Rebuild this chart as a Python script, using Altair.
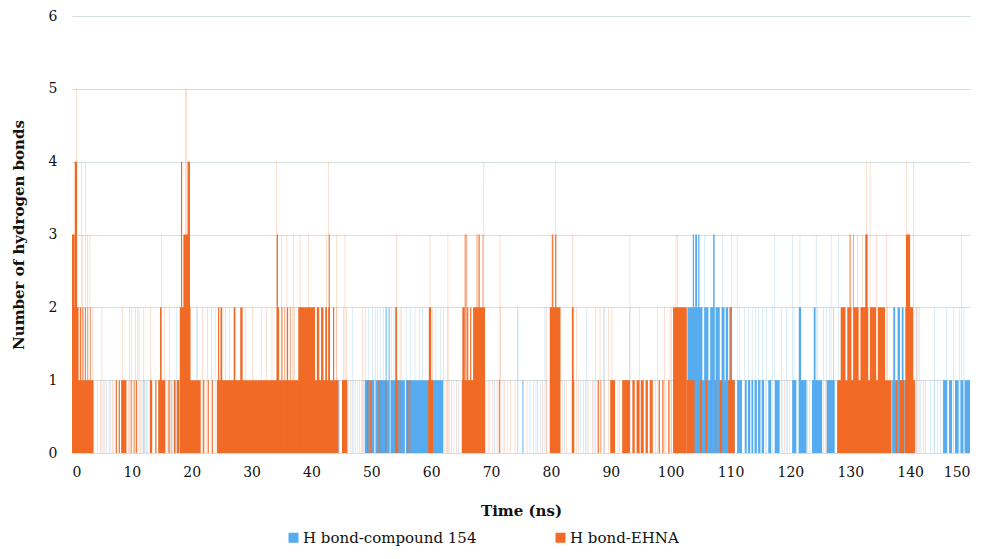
import altair as alt
import pandas as pd

series_names = ["H bond-compound 154", "H bond-EHNA"]
series_colors = ["#56ACEE", "#F26B26"]
x_ticks = list(range(0, 151, 10))
y_ticks = [0, 1, 2, 3, 4, 5, 6]

# EHNA: blocks [start ns, end ns, number of H bonds]
ehna_segments = [
    [0.0, 3.6, 1], [0.0, 1.1, 2], [0.0, 0.45, 3], [0.45, 0.85, 4],
    [1.35, 1.5, 2], [1.75, 1.9, 2], [2.15, 2.3, 2], [2.6, 2.7, 2], [3.0, 3.1, 2],
    [7.3, 7.5, 1], [7.8, 8.0, 1], [8.2, 9.1, 1], [9.8, 9.95, 1], [10.3, 10.45, 1],
    [10.7, 10.85, 1], [13.0, 13.4, 1], [13.9, 14.1, 1], [14.4, 15.6, 1], [14.7, 14.95, 2],
    [16.1, 16.3, 1], [16.5, 16.6, 1], [17.0, 17.3, 1], [17.5, 17.9, 1],
    [18.0, 21.5, 1], [18.0, 19.8, 2], [18.6, 19.7, 3], [18.2, 18.4, 4], [19.3, 19.7, 4],
    [21.9, 22.1, 1], [22.7, 22.85, 1], [23.4, 23.55, 1],
    [24.2, 44.5, 1], [24.4, 24.6, 2], [24.8, 25.1, 2], [27.0, 27.3, 2], [28.1, 28.5, 2],
    [34.2, 34.6, 2], [34.2, 34.4, 3], [35.0, 35.15, 2], [35.5, 35.6, 2], [35.9, 36.1, 2],
    [36.4, 36.5, 2], [37.8, 40.6, 2], [40.9, 41.3, 2], [41.6, 42.0, 2], [42.3, 42.6, 2],
    [42.8, 43.1, 2], [42.9, 43.05, 3], [43.6, 43.8, 2],
    [45.1, 46.0, 1],
    [49.3, 49.5, 1], [49.8, 50.0, 1], [51.2, 51.4, 1], [51.6, 51.7, 1], [52.3, 52.5, 1],
    [54.0, 54.5, 1], [54.0, 54.3, 2], [56.0, 56.2, 1], [56.4, 56.5, 1], [59.5, 60.3, 1],
    [59.6, 60.0, 2],
    [65.1, 69.0, 1], [65.2, 65.6, 2], [66.0, 66.2, 2], [66.5, 66.7, 2], [67.0, 69.0, 2],
    [65.6, 65.75, 3], [65.9, 66.0, 3], [67.6, 67.7, 3], [67.9, 68.1, 3], [68.6, 68.7, 3],
    [71.3, 71.45, 1],
    [79.8, 81.6, 2], [80.2, 80.4, 3], [80.7, 80.9, 3],
    [83.5, 83.9, 1], [83.5, 83.8, 2],
    [87.8, 88.0, 1], [88.3, 88.4, 1], [89.9, 90.7, 1], [91.9, 93.2, 1], [93.6, 94.0, 1],
    [94.3, 94.8, 1], [95.0, 95.5, 1], [95.8, 96.2, 1], [96.5, 97.0, 1], [98.0, 98.2, 1],
    [98.6, 98.8, 1], [99.6, 99.8, 1],
    [100.4, 102.7, 2], [102.7, 104.0, 1], [104.9, 105.2, 1], [105.8, 106.1, 1],
    [108.2, 108.6, 1], [109.6, 110.7, 1], [109.95, 110.2, 2],
    [127.8, 136.9, 1], [128.4, 129.2, 2], [129.5, 130.2, 2], [130.5, 131.4, 2],
    [131.7, 133.0, 2], [133.3, 134.3, 2], [134.6, 135.8, 2], [132.5, 132.9, 3],
    [129.9, 130.05, 3], [130.45, 130.55, 3],
    [137.6, 137.8, 1], [138.3, 139.0, 1], [139.1, 140.8, 1], [139.2, 140.5, 2], [139.3, 140.0, 3],
]

# EHNA: single-frame spikes [time ns, number of H bonds]
ehna_spikes = [
    [0.8, 5], [18.95, 5], [19.1, 5],
    [1.6, 4], [2.3, 4], [34.2, 4], [42.9, 4], [68.8, 4], [80.8, 4], [132.7, 4],
    [133.3, 4], [139.4, 4], [140.6, 4],
    [0.1, 3], [1.8, 3], [2.6, 3], [3.0, 3], [15.0, 3], [35.0, 3], [35.9, 3], [37.0, 3],
    [38.1, 3], [39.5, 3], [42.5, 3], [44.2, 3], [45.6, 3], [54.2, 3], [59.8, 3],
    [62.8, 3], [71.5, 3], [80.1, 3], [83.6, 3], [100.9, 3], [101.1, 3], [131.2, 3],
    [132.0, 3], [134.4, 3], [136.1, 3],
    [3.5, 2], [5.0, 2], [8.4, 2], [9.6, 2], [10.0, 2], [10.6, 2], [11.2, 2], [12.0, 2],
    [13.1, 2], [15.4, 2], [16.3, 2], [21.0, 2], [21.8, 2], [22.6, 2], [23.3, 2],
    [25.6, 2], [26.3, 2], [29.0, 2], [30.2, 2], [31.6, 2], [32.5, 2], [33.4, 2],
    [36.8, 2], [37.2, 2], [44.2, 2], [45.3, 2], [45.8, 2], [48.5, 2], [54.8, 2],
    [60.2, 2], [62.0, 2], [62.8, 2], [71.5, 2], [74.4, 2], [79.2, 2], [84.3, 2],
    [87.5, 2], [88.2, 2], [88.8, 2], [89.6, 2], [90.2, 2], [93.2, 2], [99.0, 2],
    [99.9, 2], [100.1, 2], [127.2, 2], [136.2, 2], [137.2, 2], [141.0, 2], [141.3, 2],
    [4.2, 1], [4.8, 1], [5.5, 1], [6.2, 1], [6.8, 1], [9.4, 1], [11.4, 1], [12.2, 1],
    [15.9, 1], [22.4, 1], [46.5, 1], [47.3, 1], [48.0, 1], [48.7, 1], [62.6, 1],
    [63.4, 1], [64.2, 1], [69.5, 1], [70.3, 1], [71.0, 1], [72.3, 1], [73.2, 1],
    [74.0, 1], [76.0, 1], [77.8, 1], [78.6, 1], [79.3, 1], [82.0, 1], [82.6, 1],
    [84.6, 1], [85.4, 1], [86.2, 1], [86.9, 1], [89.0, 1], [91.2, 1], [97.5, 1],
    [99.2, 1], [100.2, 1], [106.8, 1], [107.6, 1], [111.8, 1], [115.9, 1], [119.0, 1],
    [126.0, 1], [140.9, 1], [142.3, 1],
]

# Compound 154: blocks [start ns, end ns, number of H bonds]
c154_segments = [
    [44.5, 44.65, 1],
    [48.9, 50.5, 1], [50.7, 53.0, 1], [53.2, 55.6, 1], [55.8, 62.0, 1],
    [52.4, 52.55, 2], [52.9, 53.05, 2], [75.25, 75.4, 1],
    [102.7, 110.7, 1], [102.8, 105.3, 2], [105.6, 106.3, 2], [106.6, 107.3, 2],
    [107.5, 108.2, 2], [108.5, 109.0, 2], [109.2, 109.6, 2], [109.8, 110.2, 2],
    [103.7, 103.9, 3], [104.1, 104.4, 3], [104.6, 104.8, 3], [107.1, 107.35, 3],
    [111.1, 111.9, 1], [112.4, 112.7, 1], [112.9, 113.3, 1], [113.5, 113.8, 1],
    [114.0, 114.4, 1], [114.6, 115.0, 1], [115.2, 115.6, 1], [116.3, 116.8, 1],
    [117.4, 118.2, 1], [120.3, 121.0, 1], [121.4, 122.7, 1], [123.6, 125.3, 1],
    [121.4, 121.8, 2], [123.9, 124.2, 2],
    [126.1, 127.4, 1],
    [137.0, 139.1, 1], [137.2, 137.5, 2], [137.9, 138.3, 2], [138.6, 138.9, 2],
    [145.5, 146.2, 1], [146.5, 147.0, 1], [147.5, 148.1, 1], [148.4, 148.9, 1],
    [149.1, 150.0, 1],
]

# Compound 154: single-frame spikes [time ns, number of H bonds]
c154_spikes = [
    [93.2, 3], [105.7, 3], [108.7, 3], [110.2, 3], [111.1, 3], [117.4, 3], [120.3, 3],
    [121.6, 3], [124.3, 3], [126.8, 3], [128.0, 3], [148.6, 3],
    [1.3, 2], [2.0, 2], [11.0, 2], [17.5, 2], [20.8, 2], [23.9, 2], [46.8, 2],
    [49.0, 2], [49.5, 2], [50.2, 2], [50.7, 2], [51.0, 2], [51.5, 2], [52.0, 2],
    [53.4, 2], [53.8, 2], [55.0, 2], [55.8, 2], [56.6, 2], [57.3, 2], [58.0, 2],
    [58.6, 2], [60.8, 2], [61.5, 2], [74.5, 2], [79.0, 2], [86.0, 2], [89.0, 2],
    [94.8, 2], [97.8, 2], [102.3, 2], [111.5, 2], [112.3, 2], [113.0, 2], [113.6, 2],
    [114.2, 2], [114.7, 2], [115.3, 2], [116.0, 2], [117.0, 2], [118.5, 2], [119.3, 2],
    [120.6, 2], [124.5, 2], [125.5, 2], [126.0, 2], [126.5, 2], [127.2, 2], [141.0, 2],
    [141.5, 2], [144.1, 2], [146.1, 2], [147.2, 2], [148.3, 2], [149.0, 2],
    [5.2, 1], [5.8, 1], [6.5, 1], [7.0, 1], [11.7, 1], [11.9, 1], [12.1, 1], [12.4, 1],
    [12.6, 1], [16.8, 1], [46.2, 1], [47.0, 1], [47.7, 1], [48.4, 1], [62.3, 1],
    [63.0, 1], [63.8, 1], [64.6, 1], [69.8, 1], [70.6, 1], [72.0, 1], [72.8, 1],
    [76.5, 1], [77.1, 1], [77.5, 1], [78.2, 1], [82.3, 1], [85.0, 1], [85.8, 1],
    [87.2, 1], [91.5, 1], [97.2, 1], [118.7, 1], [119.5, 1], [119.9, 1], [122.9, 1],
    [123.2, 1], [125.8, 1], [141.8, 1], [142.6, 1], [143.4, 1], [144.0, 1], [144.6, 1],
    [145.1, 1], [147.3, 1],
]

SPIKE_W = 0.07
SPIKE_OPACITY = 0.5


def rows(name, segments, spikes):
    out = [{"series": name, "t0": a, "t1": b, "n": v, "base": 0, "op": 1.0}
           for a, b, v in segments]
    out += [{"series": name, "t0": t - SPIKE_W / 2, "t1": t + SPIKE_W / 2, "n": v,
             "base": 0, "op": SPIKE_OPACITY} for t, v in spikes]
    return out


df = pd.DataFrame(rows(series_names[0], c154_segments, c154_spikes)
                  + rows(series_names[1], ehna_segments, ehna_spikes))

serif = "DejaVu Serif"

chart = alt.Chart(df).mark_rect(strokeWidth=0).encode(
    x=alt.X("t0:Q", scale=alt.Scale(domain=[0, 150], nice=False, zero=True),
            axis=alt.Axis(values=x_ticks, grid=False, ticks=False, domain=False,
                          title="Time (ns)", labelFont=serif, labelFontSize=14,
                          labelColor="#111", labelPadding=12, titleFont=serif,
                          titleFontSize=15, titleFontWeight="bold", titleColor="#111",
                          titlePadding=24)),
    x2="t1:Q",
    y=alt.Y("n:Q", scale=alt.Scale(domain=[0, 6], nice=False),
            axis=alt.Axis(values=y_ticks, grid=True, gridColor="#d6dfe0", gridWidth=1,
                          ticks=False, domain=False, title="Number of hydrogen bonds",
                          labelFont=serif, labelFontSize=14, labelColor="#111",
                          labelPadding=15, titleFont=serif, titleFontSize=15,
                          titleFontWeight="bold", titleColor="#111", titlePadding=22)),
    y2="base:Q",
    opacity=alt.Opacity("op:Q", scale=None, legend=None),
    color=alt.Color("series:N",
                    scale=alt.Scale(domain=series_names, range=series_colors),
                    legend=alt.Legend(title=None, orient="none", direction="horizontal",
                                      legendX=214, legendY=514, symbolType="square",
                                      symbolSize=100, symbolStrokeWidth=0,
                                      symbolOpacity=1,
                                      labelFont=serif, labelFontSize=15, labelColor="#111",
                                      labelOffset=2, columnPadding=76, labelLimit=400)),
).properties(
    width=898, height=437,
    autosize=alt.AutoSizeParams(type="none"),
    padding={"left": 64, "top": 8, "right": 14, "bottom": 100},
).configure_view(stroke=None)

chart.save("out.html", embed_options={"renderer": "svg", "actions": False})
